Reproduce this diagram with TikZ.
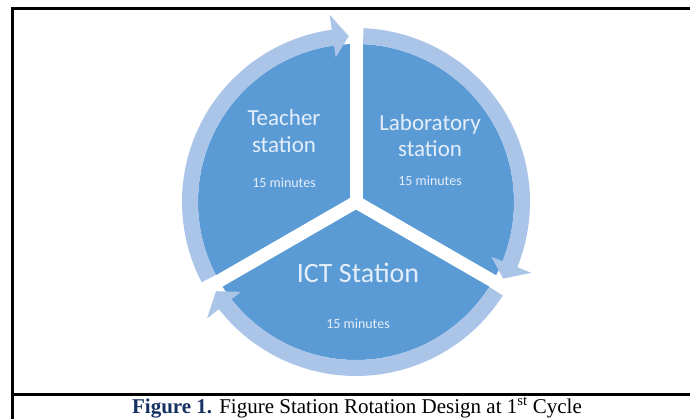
\documentclass[tikz,border=0pt]{standalone}
\usepackage{fontspec}
\setmainfont{Liberation Serif}
\newfontfamily\calib{Carlito}
\definecolor{pieblue}{RGB}{91,155,213}
\definecolor{ringblue}{RGB}{170,197,232}
\definecolor{txtlight}{RGB}{228,238,250}
\definecolor{capnavy}{RGB}{22,50,98}
\newcommand\ringarc[2]{%
  \pgfmathsetmacro\rbase{#2+5.5}%
  \fill[ringblue] (#1:174pt) arc[start angle=#1, end angle=\rbase, radius=174pt]
    -- (\rbase:189pt) -- (#2:166pt) -- (\rbase:146pt) -- (\rbase:158pt)
    arc[start angle=\rbase, end angle=#1, radius=158pt] -- cycle;}
\begin{document}
\begin{tikzpicture}[x=1pt,y=1pt,
  frameline/.style={draw=black,line width=2.2pt},
  gapline/.style={draw=white,line width=13pt},
  bigtxt/.style={font=\calib\fontsize{23}{27}\selectfont,text=txtlight,anchor=base,inner sep=0pt},
  icttxt/.style={font=\calib\fontsize{28}{33}\selectfont,text=txtlight,anchor=base,inner sep=0pt},
  smalltxt/.style={font=\calib\fontsize{14}{17}\selectfont,text=txtlight,anchor=base,inner sep=0pt},
  captxt/.style={font=\fontsize{21}{25}\selectfont,anchor=base,inner sep=0pt}]
\useasboundingbox (0,0) rectangle (690,-419);
\fill[white] (0,0) rectangle (690,-419);
% pie
\begin{scope}[shift={(356,-202)}]
  \fill[pieblue] (0,0) circle[radius=158pt];
  \ringarc{207.5}{92.5}
  \ringarc{87.5}{-27.5}
  \ringarc{-32.5}{-147.5}
  \coordinate (c) at (0,0);
  \coordinate (gtop) at (90:189pt);
  \coordinate (gleft) at (210:192pt);
  \coordinate (gright) at (-30:192pt);
  \draw[gapline] (c) -- (gtop);
  \draw[gapline] (c) -- (gleft);
  \draw[gapline] (c) -- (gright);
\end{scope}
% frame
\draw[frameline] (12.5,-419) -- (12.5,-8.5) -- (690,-8.5);
\draw[frameline] (12.5,-394.5) -- (690,-394.5);
% labels
\node[bigtxt] (t1) at (284,-126) {Teacher};
\node[bigtxt] (t2) at (284,-153) {station};
\node[smalltxt] (t3) at (284,-188) {15 minutes};
\node[bigtxt] (l1) at (430,-131) {Laboratory};
\node[bigtxt] (l2) at (430,-157) {station};
\node[smalltxt] (l3) at (430,-186) {15 minutes};
\node[icttxt] (i1) at (358,-283) {ICT Station};
\node[smalltxt] (i2) at (358,-328) {15 minutes};
% caption
\node[captxt] (cap) at (357,-413) {{\color{capnavy}\bfseries Figure 1.} Figure Station Rotation Design at 1\textsuperscript{st} Cycle};
\end{tikzpicture}
\end{document}
